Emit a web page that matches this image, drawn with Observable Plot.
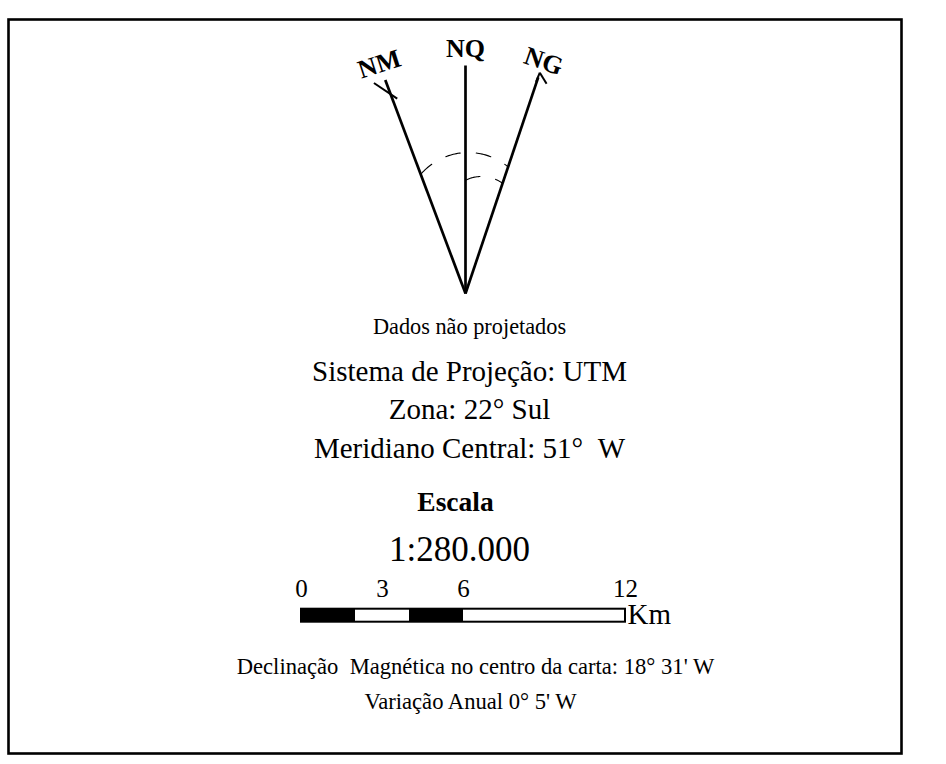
<!DOCTYPE html>
<html><head><meta charset="utf-8">
<script src="https://cdn.jsdelivr.net/npm/d3@7"></script>
<script src="https://cdn.jsdelivr.net/npm/@observablehq/plot@0.6"></script>
<style>html,body{margin:0;padding:0;background:#fff;}</style>
</head><body><div id="chart"></div>
<script>
// ---- data ----
const needleLabels = ["NM", "NQ", "NG"];
const needleAngles = [-20.6, 0, 18.6];           // degrees from true north (NQ)
const arcSpans = [["NM", "NG"], ["NQ", "NG"]];   // dashed angle arcs
const infoLines = ["Dados não projetados", "Sistema de Projeção: UTM", "Zona: 22° Sul", "Meridiano Central: 51°\u00a0\u00a0W"];
const scaleTitle = "Escala";
const scaleRatio = "1:280.000";
const barBreaks = [0, 2, 4, 6, 12];              // km
const barTickValues = [0, 3, 6, 12];             // km
const barUnit = "Km";
const notes = ["Declinação\u00a0\u00a0Magnética no centro da carta: 18° 31' W", "Variação Anual 0° 5' W"];

// ---- layout ----
const W = 946, H = 764;
const FONT = "Liberation Serif, Times New Roman, serif";
const apex = {x: 465, y: 293};
const needleLen = 228;
const labelDist = 245;
const labelTilt = {NM: -18, NQ: 0, NG: 19};
const rad = a => a * Math.PI / 180;
const needles = needleLabels.map((label, i) => {
  const a = rad(needleAngles[i]);
  const u = {x: Math.sin(a), y: -Math.cos(a)};
  return {label, angle: needleAngles[i], u,
    x1: apex.x, y1: apex.y,
    x2: apex.x + needleLen * u.x, y2: apex.y + needleLen * u.y,
    lx: apex.x + labelDist * u.x, ly: apex.y + labelDist * u.y};
});
const byLabel = Object.fromEntries(needles.map(d => [d.label, d]));

// NM cross mark
const nm = byLabel.NM;
const cp = {x: apex.x + 213 * nm.u.x, y: apex.y + 213 * nm.u.y};
const cb = {x: Math.cos(rad(33.7)), y: Math.sin(rad(33.7))};
const marksExtra = [
  {x1: cp.x - 20 * cb.x, y1: cp.y - 20 * cb.y, x2: cp.x + 8 * cb.x, y2: cp.y + 8 * cb.y}
];
// NG caret
const ng = byLabel.NG;
const tip = {x: apex.x + (needleLen + 5) * ng.u.x, y: apex.y + (needleLen + 5) * ng.u.y};
const back = Math.atan2(-ng.u.y, -ng.u.x);
[[rad(4), 10], [rad(-50), 13]].forEach(([d, l]) => {
  marksExtra.push({x1: tip.x, y1: tip.y, x2: tip.x + l * Math.cos(back + d), y2: tip.y + l * Math.sin(back + d)});
});

// arcs: circle geometry per span
const arcGeom = [{c: {x: 467.7, y: 214.5}, r: 62.5}, {c: {x: 481, y: 212}, r: 36}];
function hit(n, g) {
  const ax = apex.x - g.c.x, ay = apex.y - g.c.y;
  const b = n.u.x * ax + n.u.y * ay;
  const c = ax * ax + ay * ay - g.r * g.r;
  const s = -b + Math.sqrt(b * b - c);
  return {x: apex.x + s * n.u.x, y: apex.y + s * n.u.y};
}
const arcPts = [];
arcSpans.forEach(([a, b], k) => {
  const g = arcGeom[k];
  const p0 = hit(byLabel[a], g), p1 = hit(byLabel[b], g);
  const t0 = Math.atan2(p0.y - g.c.y, p0.x - g.c.x), t1 = Math.atan2(p1.y - g.c.y, p1.x - g.c.x);
  const n = 60;
  for (let i = 0; i <= n; i++) {
    const t = t0 + (t1 - t0) * i / n;
    arcPts.push({arc: k, x: g.c.x + g.r * Math.cos(t), y: g.c.y + g.r * Math.sin(t)});
  }
});

// text rows
const infoY = [333, 380, 418, 457];
const infoSize = [22.3, 29, 29, 29];
const infoRows = infoLines.map((t, i) => ({t, x: 469, y: infoY[i], s: infoSize[i]}));
const noteRows = notes.map((t, i) => ({t, x: [475, 470][i], y: [673, 708][i]}));

// scale bar
const bar = {x0: 301, pxPerKm: (625 - 301) / 12, y1: 608.7, y2: 621.7};
const kx = km => bar.x0 + km * bar.pxPerKm;
const segs = barBreaks.slice(0, -1).map((b, i) => ({x1: kx(b), x2: kx(barBreaks[i + 1]), fill: i % 2 ? "white" : "black"}));

const chart = Plot.plot({
  width: W, height: H,
  marginLeft: 8, marginTop: 19, marginRight: W - 901, marginBottom: H - 753,
  x: {domain: [0, W], range: [0, W], axis: null},
  y: {domain: [0, H], range: [0, H], axis: null},
  color: {type: "identity"},
  style: {background: "white"},
  marks: [
    Plot.frame({stroke: "black", strokeWidth: 2.6}),
    // arcs
    Plot.line(arcPts, {x: "x", y: "y", z: "arc", stroke: "black", strokeWidth: 1.1, strokeDasharray: "15,16"}),
    // needles
    Plot.link(needles, {x1: "x1", y1: "y1", x2: "x2", y2: "y2", stroke: "black", strokeWidth: 2.7}),
    Plot.link(marksExtra, {x1: "x1", y1: "y1", x2: "x2", y2: "y2", stroke: "black", strokeWidth: 2}),
    Plot.text(needles, {x: "lx", y: "ly", text: "label", rotate: d => labelTilt[d.label], fontFamily: FONT, fontWeight: "bold", fontSize: 26, fill: "black"}),
    // info lines
    Plot.text(infoRows, {x: "x", y: "y", text: "t", fontSize: "s", lineAnchor: "bottom", fontFamily: FONT, fill: "black"}),
    Plot.text([scaleTitle], {x: () => 455, y: () => 510, text: d => d, fontSize: 27.5, fontWeight: "bold", lineAnchor: "bottom", fontFamily: FONT, fill: "black"}),
    Plot.text([scaleRatio], {x: () => 459, y: () => 560, text: d => d, fontSize: 35, lineAnchor: "bottom", fontFamily: FONT, fill: "black"}),
    // scale bar
    Plot.rect(segs, {x1: "x1", x2: "x2", y1: () => bar.y1, y2: () => bar.y2, fill: "fill"}),
    Plot.rect([0], {x1: () => kx(barBreaks[0]), x2: () => kx(barBreaks[barBreaks.length - 1]), y1: () => bar.y1, y2: () => bar.y2, fill: "none", stroke: "black", strokeWidth: 2}),
    Plot.text(barTickValues, {x: d => kx(d), y: () => 596, text: d => String(d), fontSize: 25, lineAnchor: "bottom", fontFamily: FONT, fill: "black"}),
    Plot.text([barUnit], {x: () => kx(12) + 2, y: () => 623, text: d => d, fontSize: 29, textAnchor: "start", lineAnchor: "bottom", fontFamily: FONT, fill: "black"}),
    // notes
    Plot.text(noteRows, {x: "x", y: "y", text: "t", fontSize: 22.6, lineAnchor: "bottom", fontFamily: FONT, fill: "black"})
  ]
});
document.getElementById("chart").appendChild(chart);
</script>
</body></html>
